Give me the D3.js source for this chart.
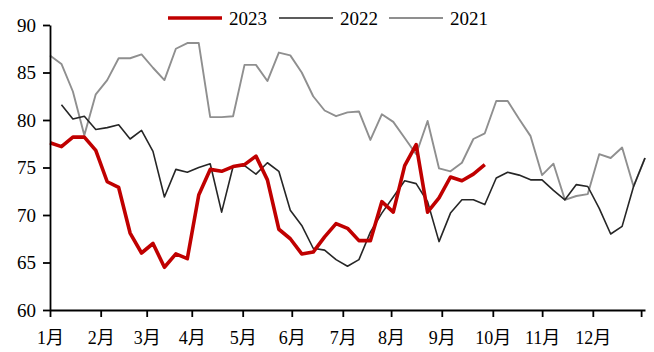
<!DOCTYPE html>
<html>
<head>
<meta charset="utf-8">
<script src="https://cdn.jsdelivr.net/npm/d3@7"></script>
<style>
  html, body { margin: 0; padding: 0; background: #fff; }
  svg { display: block; }
  text { font-family: "Liberation Serif", "Noto Sans CJK SC", serif; fill: #000; }
</style>
</head>
<body>
<svg id="chart" width="654" height="352"></svg>
<script>
// ---- data (weekly index 0..52) ----
const monthLabels = ["1月","2月","3月","4月","5月","6月","7月","8月","9月","10月","11月","12月",""];
const monthTickWeeks = [0, 4.43, 8.45, 12.39, 16.84, 21.13, 25.59, 29.81, 34.24, 38.70, 43.01, 47.44, 51.66];
const yTicks = [60, 65, 70, 75, 80, 85, 90];

const series2023 = [77.6, 77.2, 78.2, 78.2, 76.8, 73.5, 72.9, 68.1, 66.0, 67.0,
  64.5, 65.9, 65.4, 72.1, 74.8, 74.6, 75.1, 75.3, 76.2, 73.7,
  68.5, 67.5, 65.9, 66.1, 67.7, 69.1, 68.6, 67.3, 67.3, 71.4,
  70.3, 75.2, 77.4, 70.3, 71.8, 74.0, 73.6, 74.3, 75.3];

const series2022 = [null, 81.6, 80.1, 80.4, 79.0, 79.2, 79.5, 78.0, 78.9, 76.7,
  71.9, 74.8, 74.5, 75.0, 75.4, 70.3, 75.1, 75.2, 74.3, 75.5,
  74.6, 70.5, 68.9, 66.5, 66.3, 65.3, 64.6, 65.3, 68.2, 70.2,
  71.9, 73.6, 73.3, 71.4, 67.2, 70.2, 71.6, 71.6, 71.1, 73.9,
  74.5, 74.2, 73.7, 73.7, 72.6, 71.6, 73.2, 73.0, 70.7, 68.0,
  68.8, 73.0, 76.0];

const series2021 = [86.8, 85.9, 83.0, 78.4, 82.7, 84.2, 86.5, 86.5, 86.9, 85.5,
  84.2, 87.5, 88.1, 88.1, 80.3, 80.3, 80.4, 85.8, 85.8, 84.1,
  87.1, 86.8, 85.0, 82.5, 81.0, 80.4, 80.8, 80.9, 77.9, 80.6,
  79.8, 78.1, 76.4, 79.9, 74.9, 74.6, 75.5, 78.0, 78.6, 82.0,
  82.0, 80.1, 78.3, 74.2, 75.4, 71.6, 72.0, 72.2, 76.4, 76.0,
  77.1, 73.0, 76.0];

const seriesNames = ["2023", "2022", "2021"];

// ---- layout ----
const svg = d3.select("#chart");
const x = d3.scaleLinear().domain([0, 52]).range([50, 645]);
const y = d3.scaleLinear().domain([60, 90]).range([310, 25]);

const styles = {
  "2023": { color: "#c00000", width: 3.6 },
  "2022": { color: "#262626", width: 1.6 },
  "2021": { color: "#8f8f8f", width: 1.9 }
};
const dataByName = { "2023": series2023, "2022": series2022, "2021": series2021 };

// draw lines (2021 first, then 2022, then 2023 on top)
const line = d3.line()
  .defined(d => d != null)
  .x((d, i) => x(i))
  .y(d => y(d));

["2021", "2022", "2023"].forEach(name => {
  svg.append("path")
    .datum(dataByName[name])
    .attr("fill", "none")
    .attr("stroke", styles[name].color)
    .attr("stroke-width", styles[name].width)
    .attr("stroke-linejoin", "round")
    .attr("d", line);
});

// y axis
const yAxis = svg.append("g")
  .attr("transform", "translate(50,0)")
  .call(d3.axisLeft(y).tickValues(yTicks).tickSize(7).tickPadding(7).tickSizeOuter(0));
yAxis.select(".domain").attr("stroke", "#000").attr("stroke-width", 1.8);
yAxis.selectAll(".tick line").attr("stroke", "#000").attr("stroke-width", 1.8);
yAxis.selectAll(".tick text").attr("font-size", 19).attr("font-family", "Liberation Serif, serif");

// x axis
const xAxis = svg.append("g")
  .attr("transform", "translate(0,310)")
  .call(d3.axisBottom(x).tickValues(monthTickWeeks)
    .tickFormat((d, i) => monthLabels[i]).tickSize(7).tickSizeOuter(0));
xAxis.select(".domain").attr("stroke", "#000").attr("stroke-width", 1.8);
xAxis.selectAll(".tick line").attr("stroke", "#000").attr("stroke-width", 1.8);
xAxis.selectAll(".tick text")
  .attr("font-size", 18)
  .attr("y", 34)
  .attr("dy", 0);

// legend
const legendItems = [
  { name: "2023", x0: 168 },
  { name: "2022", x0: 279 },
  { name: "2021", x0: 389 }
];
const lg = svg.append("g");
legendItems.forEach(it => {
  lg.append("line")
    .attr("x1", it.x0).attr("x2", it.x0 + 54)
    .attr("y1", 18).attr("y2", 18)
    .attr("stroke", styles[it.name].color)
    .attr("stroke-width", styles[it.name].width);
  lg.append("text")
    .attr("x", it.x0 + 61)
    .attr("y", 25)
    .attr("font-size", 19)
    .text(it.name);
});
</script>
</body>
</html>
